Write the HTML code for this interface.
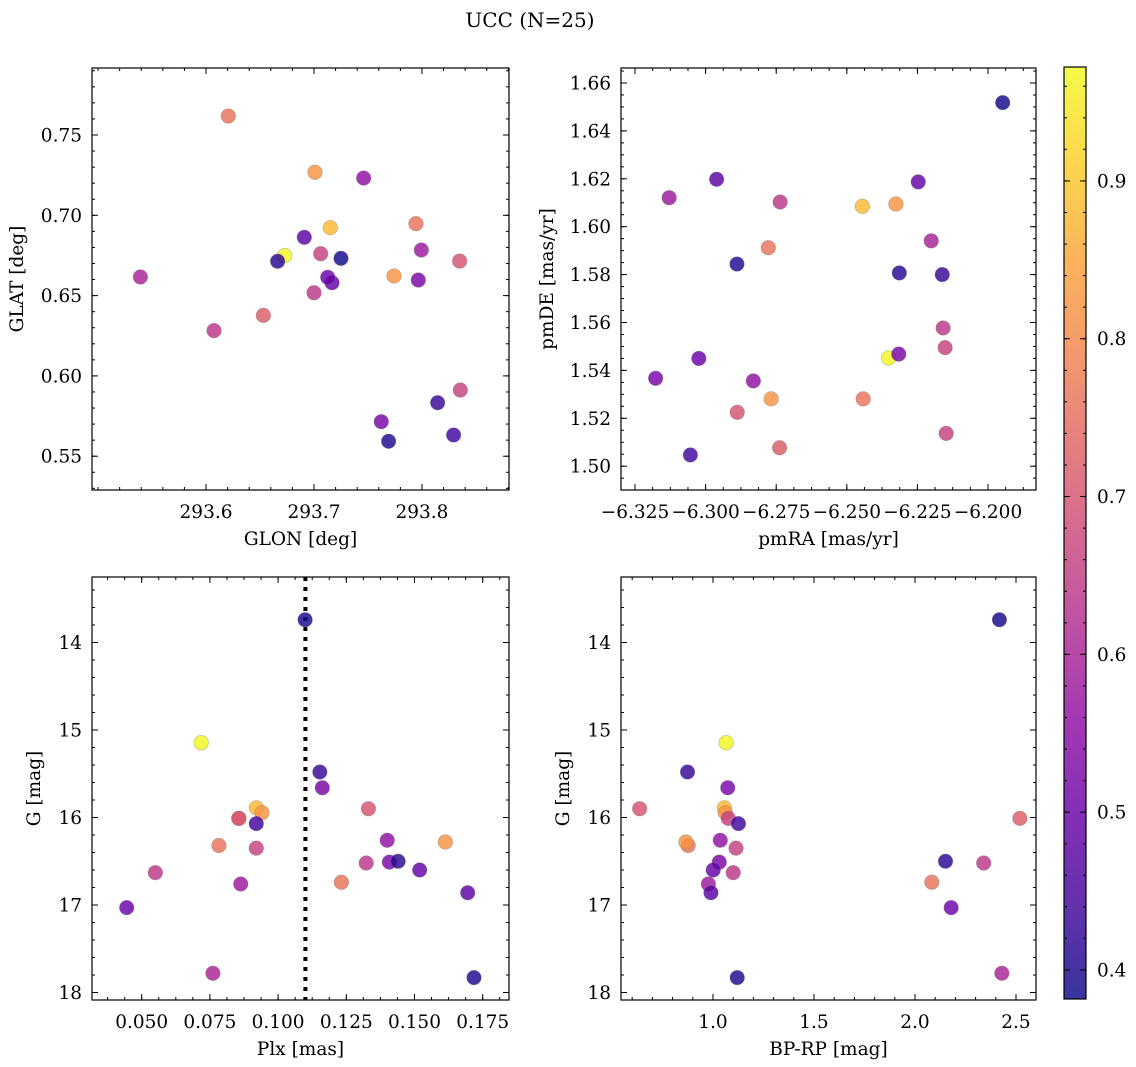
<!DOCTYPE html>
<html><head><meta charset="utf-8"><title>UCC (N=25)</title>
<style>
html,body{margin:0;padding:0;background:#fff;}
svg{display:block;font-family:"DejaVu Serif","Liberation Serif",serif;}
</style></head>
<body>
<svg id="fig" width="1136" height="1067" viewBox="0 0 1136 1067" xmlns="http://www.w3.org/2000/svg">
<text x="530" y="27" font-size="20" text-anchor="middle">UCC (N=25)</text>
</svg>
<script>
// ---- data (one entry per star) ----
const glon = [293.7250,293.6729,293.8145,293.7966,293.8349,293.7151,293.7009,293.8355,293.6531,293.8293,293.6206,293.7062,293.7460,293.7741,293.7000,293.6074,293.7623,293.6663,293.7167,293.7944,293.7994,293.6910,293.7127,293.5392,293.7691];
const glat = [0.6732,0.6749,0.5833,0.6597,0.6715,0.6923,0.7268,0.5912,0.6377,0.5632,0.7618,0.6761,0.7232,0.6622,0.6518,0.6282,0.5715,0.6714,0.6580,0.6948,0.6784,0.6863,0.6614,0.6616,0.5593];
const pmra = [-6.1948,-6.2352,-6.2162,-6.2316,-6.2888,-6.2445,-6.2326,-6.2152,-6.2738,-6.3054,-6.2778,-6.2148,-6.2831,-6.2768,-6.2159,-6.2736,-6.3177,-6.2314,-6.2247,-6.2442,-6.3129,-6.2961,-6.3024,-6.2201,-6.2889];
const pmde = [1.6518,1.5452,1.5800,1.5468,1.5225,1.6085,1.6095,1.5495,1.5077,1.5047,1.5912,1.5137,1.5356,1.5281,1.5577,1.6103,1.5367,1.5807,1.6187,1.5281,1.6121,1.6198,1.5450,1.5941,1.5844];
const plx = [0.1099,0.0718,0.1153,0.1162,0.1331,0.0920,0.0941,0.0856,0.0856,0.0920,0.0783,0.0920,0.1400,0.1613,0.0550,0.1323,0.1408,0.1440,0.1519,0.1232,0.0863,0.1695,0.0445,0.0761,0.1718];
const gmag = [13.74,15.145,15.48,15.66,15.90,15.89,15.945,16.01,16.01,16.07,16.32,16.35,16.26,16.28,16.63,16.52,16.51,16.50,16.60,16.74,16.76,16.86,17.03,17.78,17.83];
const bprp = [2.418,1.065,0.874,1.073,0.637,1.056,1.061,1.076,2.519,1.126,0.877,1.114,1.036,0.866,1.100,2.340,1.031,2.151,1.001,2.083,0.977,0.990,2.179,2.43,1.12];
const prob = [0.39,0.97,0.43,0.52,0.70,0.88,0.82,0.66,0.72,0.44,0.76,0.66,0.56,0.82,0.64,0.64,0.52,0.41,0.49,0.76,0.58,0.48,0.50,0.60,0.40];
const plxLine = [0.110];
const tlXTicks = [293.6,293.7,293.8];
const tlYTicks = [0.55,0.60,0.65,0.70,0.75];
const trXTicks = [-6.325,-6.300,-6.275,-6.250,-6.225,-6.200];
const trYTicks = [1.50,1.52,1.54,1.56,1.58,1.60,1.62,1.64,1.66];
const blXTicks = [0.050,0.075,0.100,0.125,0.150,0.175];
const gTicks = [14,15,16,17,18];
const brXTicks = [1.0,1.5,2.0,2.5];
const cbTicks = [0.4,0.5,0.6,0.7,0.8,0.9];
const cbRange = [0.3816,0.9722];

const NS="http://www.w3.org/2000/svg";
const svg=document.getElementById('fig');
const FS=18.5;
function mk(tag,attrs,parent){const e=document.createElementNS(NS,tag);for(const k in attrs)e.setAttribute(k,attrs[k]);(parent||svg).appendChild(e);return e;}

const plasma=["#0d0887","#41049d","#6a00a8","#8f0da4","#b12a90","#cc4778","#e16462","#f2844b","#fca636","#fcce25","#f0f921"];
function hex(h){return [parseInt(h.substr(1,2),16),parseInt(h.substr(3,2),16),parseInt(h.substr(5,2),16)];}
function cmap(t){t=Math.max(0,Math.min(1,t));const f=t*10,i=Math.min(9,Math.floor(f)),r=f-i;const a=hex(plasma[i]),b=hex(plasma[i+1]);
 return 'rgb('+a.map((v,k)=>Math.round(v+(b[k]-v)*r)).join(',')+')';}
function pcol(p){return cmap((p-cbRange[0])/(cbRange[1]-cbRange[0]));}

function fmt(v,d){let s=v.toFixed(d);return s.replace('-','\u2212');}

function panel(cfg){
 const g=mk('g',{});
 
 
 const sx=v=>cfg.x0+(v-cfg.xmin)/(cfg.xmax-cfg.xmin)*(cfg.x1-cfg.x0);
 const sy=v=>cfg.y1-(v-cfg.ybot)/(cfg.ytop-cfg.ybot)*(cfg.y1-cfg.y0);
 const tg=mk('g',{stroke:'#000','stroke-width':1},g);
 
 
 function xt(v,len){const x=sx(v);if(x<cfg.x0-0.5||x>cfg.x1+0.5)return;mk('line',{x1:x,x2:x,y1:cfg.y1,y2:cfg.y1-len},tg);mk('line',{x1:x,x2:x,y1:cfg.y0,y2:cfg.y0+len},tg);}
 function yt(v,len){const y=sy(v);if(y<cfg.y0-0.5||y>cfg.y1+0.5)return;mk('line',{x1:cfg.x0,x2:cfg.x0+len,y1:y,y2:y},tg);mk('line',{x1:cfg.x1,x2:cfg.x1-len,y1:y,y2:y},tg);}
 for(let v=Math.ceil(cfg.xmin/cfg.xminor-1e-6)*cfg.xminor;v<=cfg.xmax+1e-9;v+=cfg.xminor)xt(v,3);
 for(let v=Math.ceil(Math.min(cfg.ybot,cfg.ytop)/cfg.yminor-1e-6)*cfg.yminor;v<=Math.max(cfg.ybot,cfg.ytop)+1e-9;v+=cfg.yminor)yt(v,3);
 cfg.xticks.forEach(v=>xt(v,6));
 cfg.yticks.forEach(v=>yt(v,6));
 cfg.xticks.forEach(v=>{const t=mk('text',{x:sx(v),y:cfg.y1+28,'font-size':FS,'text-anchor':'middle'},g);t.textContent=fmt(v,cfg.xd);
   });
 cfg.yticks.forEach(v=>{const t=mk('text',{x:cfg.x0-10,y:sy(v)+6.5,'font-size':FS,'text-anchor':'end'},g);t.textContent=fmt(v,cfg.yd);
   });
 const xl=mk('text',{x:(cfg.x0+cfg.x1)/2,y:cfg.y1+55,'font-size':FS,'text-anchor':'middle'},g);xl.textContent=cfg.xlabel;
 
 const yl=mk('text',{x:0,y:0,'font-size':FS,'text-anchor':'middle',transform:'translate('+cfg.ylx+','+((cfg.y0+cfg.y1)/2)+') rotate(-90)'},g);yl.textContent=cfg.ylabel;
 
 if(cfg.vline){cfg.vline.forEach(v=>{const l=mk('line',{x1:sx(v),x2:sx(v),y1:cfg.y0,y2:cfg.y1,stroke:'#000','stroke-width':4,'stroke-dasharray':'4,6'},g);
   });}
 const pg=mk('g',{},g);
 
 
 cfg.xs.forEach((xv,i)=>{const c=mk('circle',{cx:sx(xv),cy:sy(cfg.ys[i]),r:7.3,fill:pcol(prob[i]),'fill-opacity':0.82,stroke:'#777','stroke-opacity':0.5,'stroke-width':0.6},pg);
   });
 const fr=mk('rect',{x:cfg.x0,y:cfg.y0,width:cfg.x1-cfg.x0,height:cfg.y1-cfg.y0,fill:'none',stroke:'#000','stroke-width':1.2},g);
 
}

panel({name:'glon-glat-panel',x0:92,x1:509,y0:68,y1:490,xmin:293.4944,xmax:293.8806,ybot:0.52896,ytop:0.79172,
 xticks:tlXTicks,yticks:tlYTicks,xminor:0.02,yminor:0.01,xd:1,yd:2,xlabel:'GLON [deg]',ylabel:'GLAT [deg]',ylx:23,xs:glon,ys:glat});
panel({name:'pm-panel',x0:621,x1:1036,y0:68,y1:490,xmin:-6.32996,xmax:-6.18300,ybot:1.49006,ytop:1.66626,
 xticks:trXTicks,yticks:trYTicks,xminor:0.00625,yminor:0.005,xd:3,yd:2,xlabel:'pmRA [mas/yr]',ylabel:'pmDE [mas/yr]',ylx:553,xs:pmra,ys:pmde});
panel({name:'plx-g-panel',x0:92,x1:509,y0:577,y1:1000,xmin:0.03178,xmax:0.18464,ybot:18.0857,ytop:13.2514,
 xticks:blXTicks,yticks:gTicks,xminor:0.00625,yminor:0.2,xd:3,yd:0,xlabel:'Plx [mas]',ylabel:'G [mag]',ylx:40,xs:plx,ys:gmag,vline:plxLine});
panel({name:'cmd-panel',x0:621,x1:1036,y0:577,y1:1000,xmin:0.5446,xmax:2.599,ybot:18.0857,ytop:13.2514,
 xticks:brXTicks,yticks:gTicks,xminor:0.1,yminor:0.2,xd:1,yd:0,xlabel:'BP-RP [mag]',ylabel:'G [mag]',ylx:569,xs:bprp,ys:gmag});

(function(){
 const cx0=1064,cx1=1086,cy0=67,cy1=999;
 const g=mk('g',{});
 
 
 const defs=mk('defs',{},g);
 const lg=mk('linearGradient',{id:'cbg',x1:0,y1:1,x2:0,y2:0},defs);
 for(let i=0;i<=20;i++){mk('stop',{offset:(i/20),'stop-color':cmap(i/20),'stop-opacity':0.82},lg);}
 const r=mk('rect',{x:cx0,y:cy0,width:cx1-cx0,height:cy1-cy0,fill:'url(#cbg)',stroke:'#000','stroke-width':1.2},g);
 
 const sy=v=>cy1-(v-cbRange[0])/(cbRange[1]-cbRange[0])*(cy1-cy0);
 for(let v=0.40;v<=0.97;v+=0.02){mk('line',{x1:cx1,x2:cx1-3,y1:sy(v),y2:sy(v),stroke:'#000'},g);mk('line',{x1:cx0,x2:cx0+3,y1:sy(v),y2:sy(v),stroke:'#000'},g);}
 cbTicks.forEach(v=>{mk('line',{x1:cx1,x2:cx1-6,y1:sy(v),y2:sy(v),stroke:'#000'},g);mk('line',{x1:cx0,x2:cx0+6,y1:sy(v),y2:sy(v),stroke:'#000'},g);
  const t=mk('text',{x:cx1+11,y:sy(v)+6.5,'font-size':FS},g);t.textContent=v.toFixed(1);
  });
})();
</script>
</body></html>
